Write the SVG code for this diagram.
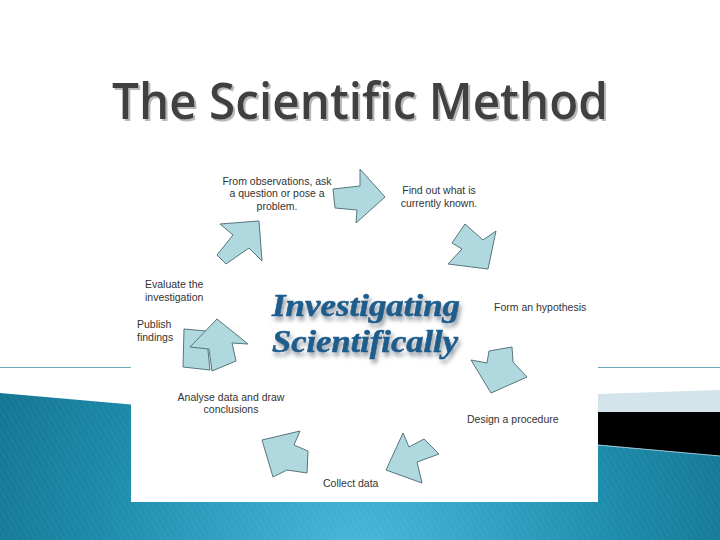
<svg xmlns="http://www.w3.org/2000/svg" width="720" height="540" viewBox="0 0 720 540">
<defs>
<radialGradient id="teal" cx="360" cy="560" r="520" gradientUnits="userSpaceOnUse">
<stop offset="0" stop-color="#4ab8db"/>
<stop offset="0.5" stop-color="#1d8bab"/>
<stop offset="1" stop-color="#0a637d"/>
</radialGradient>
<pattern id="stripes" width="5" height="5" patternUnits="userSpaceOnUse" patternTransform="rotate(-30)">
<line x1="0" y1="0" x2="0" y2="5" stroke="#ffffff" stroke-opacity="0.09" stroke-width="1.2"/>
</pattern>
<filter id="titleShadow" x="-5%" y="-20%" width="110%" height="140%">
<feDropShadow dx="2" dy="2" stdDeviation="0.6" flood-color="#b8b8b8" flood-opacity="1"/>
</filter>
<filter id="bigShadow" x="-10%" y="-30%" width="120%" height="170%">
<feDropShadow dx="2" dy="4" stdDeviation="2.2" flood-color="#6f7c86" flood-opacity="0.75"/>
</filter>
<style>
.lbl{font-family:"Liberation Sans",Arial,sans-serif;font-size:10.5px;fill:#333333}
.arrow{fill:#b0d9df;stroke:#56767b;stroke-width:1;stroke-linejoin:miter}
.big{font-family:"Liberation Serif","Times New Roman",serif;font-weight:bold;font-style:italic;font-size:32.5px;fill:#1d5d8c;stroke:#1d5d8c;stroke-width:0.6}
</style>
</defs>
<rect x="0" y="0" width="720" height="540" fill="#ffffff"/>
<line x1="0" y1="367.5" x2="720" y2="367.5" stroke="#6fa8b9" stroke-width="1"/>
<polygon points="0,393 720,456 720,540 0,540" fill="url(#teal)"/>
<polygon points="0,393 720,456 720,540 0,540" fill="url(#stripes)"/>
<polygon points="598,394 720,390 720,412 598,412" fill="#d3e5eb"/>
<polygon points="598,412 720,412 720,456 598,445" fill="#000000"/>
<line x1="598" y1="445" x2="720" y2="456" stroke="#8fc3d3" stroke-width="1"/>
<rect x="131" y="150" width="467" height="352" fill="#ffffff"/>
<g id="title">
<text x="112" y="119" font-family="'Open Sans','DejaVu Sans',sans-serif" font-weight="600" font-size="50" fill="#404040" textLength="496" lengthAdjust="spacingAndGlyphs" filter="url(#titleShadow)">The Scientific Method</text>
</g>
<g id="center-title" filter="url(#bigShadow)">
<text class="big" x="272" y="316" textLength="188" lengthAdjust="spacingAndGlyphs">Investigating</text>
<text class="big" x="272" y="352" textLength="186" lengthAdjust="spacingAndGlyphs">Scientifically</text>
</g>
<g id="connectors">
<polygon class="arrow" points="333,189 360,186 360,169 385,197 356,223 357,210 335,208"/>
<polygon class="arrow" points="465,224 483,240 496,231 488,269 448,264 462,249 452,243"/>
<polygon class="arrow" points="489,351 512,347 513,362 527,377 491,393 471,360 487,363"/>
<polygon class="arrow" points="403,433 409,447 424,439 439,454 417,462 422,483 386,470"/>
<polygon class="arrow" points="262,440 300,431 294,445 308,451 307,473 287,470 273,477"/>
<polygon class="arrow" points="184,329 206,331 210,370 183,367"/>
<polygon class="arrow" points="190,347 217,319 248,344 232,343 236,361 212,371 209,349"/>
<polygon class="arrow" points="220,224 259,221 262,261 249,248 226,264 217,255 233,235"/>
</g>
<g id="node-observe">
<text class="lbl" x="277" y="185" text-anchor="middle">From observations, ask</text>
<text class="lbl" x="277" y="197" text-anchor="middle">a question or pose a</text>
<text class="lbl" x="277" y="210" text-anchor="middle">problem.</text>
</g>
<g id="node-known">
<text class="lbl" x="439" y="194" text-anchor="middle">Find out what is</text>
<text class="lbl" x="439" y="207" text-anchor="middle">currently known.</text>
</g>
<g id="node-hypothesis">
<text class="lbl" x="494" y="311">Form an hypothesis</text>
</g>
<g id="node-procedure">
<text class="lbl" x="467" y="423">Design a procedure</text>
</g>
<g id="node-collect">
<text class="lbl" x="323" y="487">Collect data</text>
</g>
<g id="node-analyse">
<text class="lbl" x="231" y="401" text-anchor="middle">Analyse data and draw</text>
<text class="lbl" x="231" y="413" text-anchor="middle">conclusions</text>
</g>
<g id="node-publish">
<text class="lbl" x="137" y="328">Publish</text>
<text class="lbl" x="137" y="341">findings</text>
</g>
<g id="node-evaluate">
<text class="lbl" x="145" y="288">Evaluate the</text>
<text class="lbl" x="145" y="301">investigation</text>
</g>
</svg>
